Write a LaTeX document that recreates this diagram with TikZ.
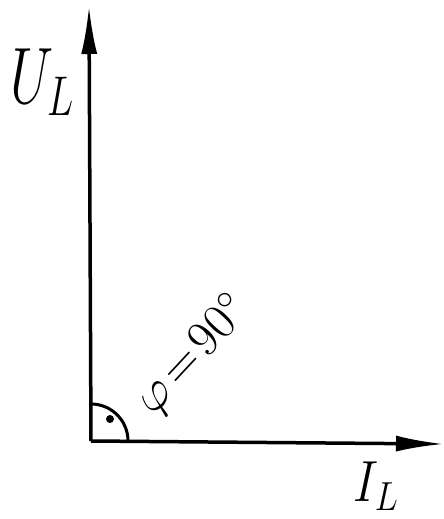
\RequirePackage{fix-cm}
\documentclass[tikz,border=0pt]{standalone}
\usetikzlibrary{arrows.meta}
\begin{document}
\begin{tikzpicture}[x=1pt,y=-1pt,
  axis/.style={line width=3.5pt, -{Latex[length=48pt,width=16pt]}},
  lbl/.style={inner sep=0pt, font=\fontsize{80}{80}\selectfont}]
\useasboundingbox (0,0) rectangle (444,519);
\coordinate (O) at (91,441);
\coordinate (T) at (89,6);
\coordinate (R) at (444,444);
\draw[axis] (O) -- (T);
\draw[axis] (O) -- (R);
\draw[line width=3pt] (91,404) arc[start angle=-90, end angle=0, radius=37];
\fill (110,419) circle (4);
\node[lbl, xscale=0.7] (U) at (42,82) {$U_L$};
\node[lbl, xscale=0.85, font=\fontsize{58}{58}\selectfont] (I) at (376,486) {$I_L$};
\node[inner sep=0pt, rotate=47, font=\fontsize{50}{50}\selectfont] (phi) at (194,356) {$\varphi\!=\!90^\circ$};
\end{tikzpicture}
\end{document}
